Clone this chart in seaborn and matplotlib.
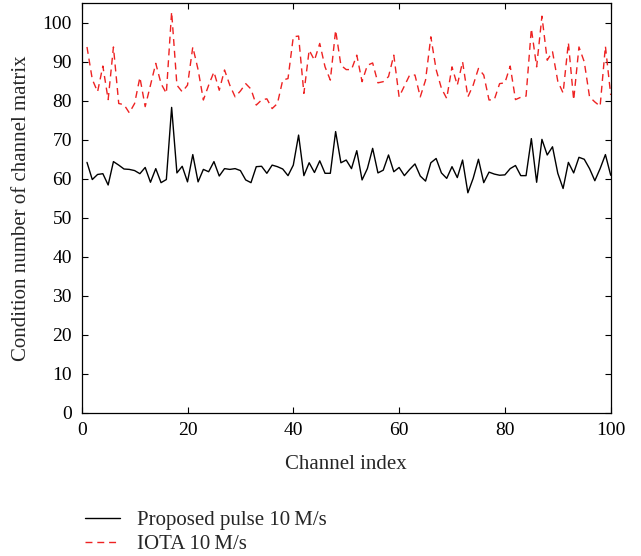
import matplotlib
matplotlib.use('Agg')
import matplotlib.pyplot as plt
import seaborn as sns
import pandas as pd
import numpy as np

channel_index = list(range(1, 101))

proposed_pulse = [
    64.2, 59.8, 61.1, 61.3, 58.4, 64.4, 63.5, 62.5, 62.4, 62.1,
    61.3, 62.9, 59.1, 62.6, 59.0, 59.8, 78.3, 61.5, 63.2, 59.2,
    66.2, 59.2, 62.4, 61.8, 64.4, 60.7, 62.6, 62.4, 62.6, 62.1,
    59.7, 59.0, 63.1, 63.2, 61.4, 63.5, 63.1, 62.5, 60.8, 63.5,
    71.2, 60.8, 64.1, 61.6, 64.6, 61.4, 61.4, 72.1, 64.1, 64.8,
    62.6, 67.2, 59.7, 62.6, 67.8, 61.5, 62.2, 66.1, 61.8, 62.9,
    60.8, 62.4, 63.8, 60.7, 59.4, 64.1, 65.2, 61.5, 60.1, 63.1,
    60.3, 64.8, 56.4, 60.1, 65.0, 59.0, 61.7, 61.2, 60.9, 61.0,
    62.6, 63.4, 60.8, 60.8, 70.3, 59.1, 70.1, 66.1, 68.2, 61.4,
    57.5, 64.2, 61.5, 65.5, 65.0, 62.6, 59.5, 62.6, 66.2, 60.9,
]

iota = [
    93.8, 85.5, 82.3, 88.9, 80.3, 93.8, 79.3, 79.0, 76.9, 79.3,
    86.0, 78.5, 84.0, 89.6, 84.4, 81.9, 102.8, 84.0, 82.3, 84.0,
    93.8, 88.0, 80.2, 84.0, 87.4, 82.7, 87.9, 84.0, 81.0, 82.5,
    84.4, 83.0, 78.9, 80.2, 80.5, 78.0, 79.3, 85.3, 85.7, 96.4,
    96.6, 81.9, 93.0, 90.4, 94.7, 88.7, 85.3, 98.1, 89.1, 88.0,
    88.0, 91.7, 84.9, 89.1, 89.7, 84.6, 84.9, 86.2, 91.7, 81.0,
    83.8, 86.6, 86.6, 81.0, 85.3, 96.4, 88.0, 83.2, 80.6, 88.7,
    84.0, 90.0, 81.0, 84.0, 88.3, 86.6, 80.2, 80.3, 84.4, 84.6,
    88.9, 80.3, 80.9, 81.2, 98.5, 88.7, 101.7, 90.4, 92.6, 85.0,
    82.0, 94.9, 80.2, 93.8, 90.0, 81.0, 79.7, 78.6, 94.0, 81.5,
]

series_labels = ["Proposed pulse 10\u2009M/s", "IOTA 10\u2009M/s"]

sns.set_theme(style="ticks")
plt.rcParams['font.family'] = ['Liberation Serif', 'DejaVu Serif']

df = pd.DataFrame({
    'channel': channel_index * 2,
    'cond': proposed_pulse + iota,
    'series': [series_labels[0]] * 100 + [series_labels[1]] * 100,
})

fig = plt.figure(figsize=(6.41, 5.56), dpi=100)
ax = fig.add_axes([81.7 / 641, 1 - 412.7 / 556,
                   (610.7 - 81.7) / 641, (412.7 - 3.3) / 556])

sns.lineplot(data=df[df['series'] == series_labels[0]], x='channel',
             y='cond', color='black', linewidth=1.0, ax=ax,
             label=series_labels[0], legend=False)
sns.lineplot(data=df[df['series'] == series_labels[1]], x='channel',
             y='cond', color='#ee2222', linewidth=1.0, ax=ax,
             label=series_labels[1], legend=False)
ax.lines[1].set_linestyle((0, (5, 3.5)))

ax.set_xlim(0, 100)
ax.set_ylim(0, 105)
ax.set_xticks(np.arange(0, 101, 20))
ax.set_yticks(np.arange(0, 101, 10))
ax.tick_params(direction='in', top=True, right=True, length=4,
               width=0.8, labelsize=14, colors='black', pad=7)
for side in ax.spines.values():
    side.set_linewidth(0.9)
    side.set_color('black')

ax.set_xlabel('Channel index', fontsize=15, labelpad=11)
ax.set_ylabel('Condition number of channel matrix', fontsize=15,
              labelpad=8)

handles = ax.get_lines()[:2]
fig.legend(handles, series_labels, loc='upper left',
           bbox_to_anchor=(66 / 641, 1 - 492 / 556), frameon=False,
           fontsize=15, handlelength=1.7, handletextpad=0.8,
           labelspacing=0.2)

plt.savefig('out.png', dpi=100)
plt.close()
